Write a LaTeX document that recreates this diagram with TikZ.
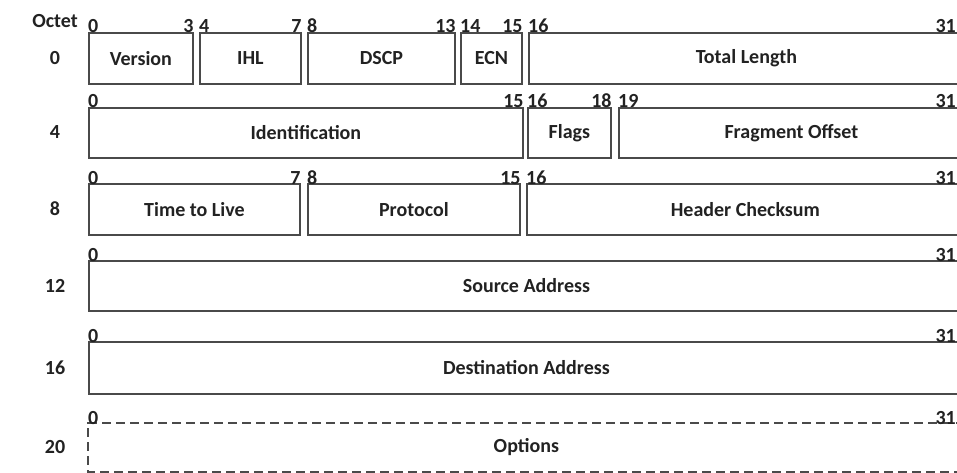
\documentclass[tikz,border=0pt]{standalone}
\usepackage{fontspec}
\setmainfont{Carlito}
\begin{document}
\begin{tikzpicture}[x=1pt,y=-1pt,
  field/.style={draw=linec, line width=1.8pt, anchor=north west, inner sep=0pt, text=txt, font=\fontsize{20}{24}\selectfont\bfseries},
  optfield/.style={field, draw=none},
  bitl/.style={anchor=base west, inner sep=0pt, text=txt, font=\fontsize{20}{24}\selectfont\bfseries},
  bitr/.style={anchor=base east, inner sep=0pt, text=txt, font=\fontsize{20}{24}\selectfont\bfseries},
  rowl/.style={anchor=center, inner sep=0pt, text=txt, font=\fontsize{20}{24}\selectfont\bfseries},
  dashline/.style={draw=linec, line width=1.6pt, dash pattern=on 9pt off 5pt}
]
\definecolor{linec}{HTML}{4A4A4A}
\definecolor{txt}{HTML}{222222}
\useasboundingbox (0,0) rectangle (957,473);
\fill[white] (0,0) rectangle (957,473);
\begin{scope}
\clip (0,0) rectangle (957,473);
% row labels
\node[rowl] (octet) at (55,21) {Octet};
\node[rowl] (r0) at (55,58) {0};
\node[rowl] (r4) at (55,132) {4};
\node[rowl] (r8) at (55,209) {8};
\node[rowl] (r12) at (55,286) {12};
\node[rowl] (r16) at (55,368) {16};
\node[rowl] (r20) at (55,447) {20};
% row 0
\node[field, minimum width=104pt, minimum height=51pt] (ver) at (88,32) {Version};
\node[field, minimum width=101pt, minimum height=51pt] (ihl) at (199,32) {IHL};
\node[field, minimum width=147pt, minimum height=51pt] (dscp) at (307,32) {DSCP};
\node[field, minimum width=61pt, minimum height=51pt] (ecn) at (460,32) {ECN};
\node[field, minimum width=435pt, minimum height=51pt] (tlen) at (528,32) {Total Length};
% row 4
\node[field, minimum width=434pt, minimum height=50pt] (ident) at (88,107) {Identification};
\node[field, minimum width=83pt, minimum height=50pt] (flags) at (527,107) {Flags};
\node[field, minimum width=345pt, minimum height=50pt] (frag) at (618,107) {Fragment Offset};
% row 8
\node[field, minimum width=211pt, minimum height=51pt] (ttl) at (88,183) {Time to Live};
\node[field, minimum width=212pt, minimum height=51pt] (proto) at (307,183) {Protocol};
\node[field, minimum width=437pt, minimum height=51pt] (hcs) at (526,183) {Header Checksum};
% row 12
\node[field, minimum width=875pt, minimum height=50pt] (src) at (88,260) {Source Address};
% row 16
\node[field, minimum width=875pt, minimum height=52pt] (dst) at (88,341) {Destination Address};
% row 20
\node[optfield, minimum width=875pt, minimum height=47pt] (opt) at (88,423) {Options};
\draw[dashline] (opt.north east) -- (opt.north west) -- (opt.south west) -- (opt.south east);
% bit numbers (left ends)
\foreach \n/\l in {ver/0, ihl/4, dscp/8, ecn/14, tlen/16,
                   ident/0, flags/16, frag/19,
                   ttl/0, proto/8, hcs/16,
                   src/0, dst/0, opt/0} {
  \node[bitl] (\n-bl) at ([yshift=-1pt]\n.north west) {\l};
}
% bit numbers (right ends inside the picture)
\foreach \n/\r in {ver/3, ihl/7, dscp/13, ecn/15, ident/15, flags/18, ttl/7, proto/15} {
  \node[bitr] (\n-br) at ([yshift=-1pt]\n.north east) {\r};
}
% bit 31 labels at the picture's right edge
\foreach \n in {tlen, frag, hcs, src, dst, opt} {
  \coordinate (\n-edge) at ([yshift=-1pt]\n.north west -| 956,0);
  \node[bitr] (\n-br) at (\n-edge) {31};
}
\end{scope}
\end{tikzpicture}
\end{document}
